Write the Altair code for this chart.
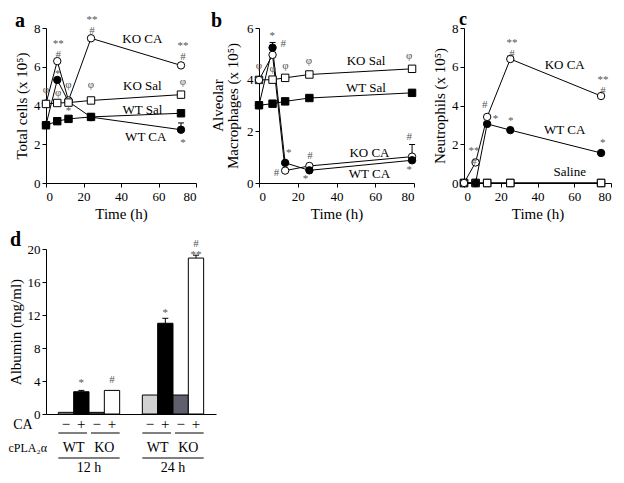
import altair as alt
import pandas as pd

FONT = "Liberation Serif"
NOTE_COLOR = "#555555"

# ---------------- Panel a : Total cells ----------------
a_time = [0, 6, 12, 24, 72]
a_ko_ca = [4.1, 6.29, 4.26, 7.47, 6.07]
a_wt_ca = [3.0, 5.32, 4.2, 3.4, 2.75]
a_ko_sal = [4.08, 4.13, 4.15, 4.26, 4.56]
a_wt_sal = [2.98, 3.19, 3.31, 3.41, 3.6]
a_err_series = ["WT CA"]
a_err_time = [72]
a_err_size = [0.35]
a_note_time = [0, 6.5, 6.5, 6.3, 12, 12, 24.5, 24, 73, 73, 73]
a_note_value = [4.8, 7.2, 4.64, 5.65, 5.04, 3.74, 8.4, 5.04, 7.07, 5.2, 2.05]
a_note_text = ["φ", "**\n#", "φ", "*", "φ", "*", "**\n#", "φ", "**\n#", "φ", "*"]
a_label_time = [51.4, 51.4, 51.4, 53.2]
a_label_value = [7.42, 5.0, 3.77, 2.37]
a_label_text = ["KO CA", "KO Sal", "WT Sal", "WT CA"]

# ---------------- Panel b : Alveolar macrophages ----------------
b_time = [0, 7, 13.5, 26, 79]
b_ko_sal = [3.99, 4.0, 4.07, 4.2, 4.42]
b_wt_sal = [3.01, 3.07, 3.16, 3.29, 3.49]
b_wt_ca = [3.01, 5.24, 0.78, 0.49, 0.88]
b_ko_ca = [3.99, 4.96, 0.48, 0.66, 1.02]
b_err_series = ["WT CA", "KO CA", "KO Sal"]
b_err_time = [7, 79, 13.5]
b_err_size = [0.2, 0.47, 0.1]
b_note_time = [0, 6.8, 12.5, 7, 13.7, 25.8, 77.5, 77.5, 77.5, 15.4, 9.0, 26.3, 24]
b_note_value = [4.54, 5.7, 5.39, 4.42, 4.54, 4.72, 4.93, 1.79, 0.51, 1.18, 0.39, 1.06, 0.15]
b_note_text = ["φ", "*", "#", "φ", "φ", "φ", "φ", "#", "*", "*", "#", "#", "*"]
b_label_time = [55.2, 55.2, 57, 57]
b_label_value = [4.72, 3.68, 1.18, 0.33]
b_label_text = ["KO Sal", "WT Sal", "KO CA", "WT CA"]

# ---------------- Panel c : Neutrophils ----------------
c_time = [0, 6.3, 12.6, 25.2, 74.6]
c_ko_ca = [0, 1.06, 3.41, 6.4, 4.49]
c_wt_ca = [0, 0, 3.05, 2.73, 1.55]
c_ko_sal = [0, 0, 0, 0, 0]
c_wt_sal = [0, 0, 0, 0, 0]
c_err_series = ["KO CA", "KO CA"]
c_err_time = [25.2, 74.6]
c_err_size = [0.15, 0.1]
c_note_time = [5.4, 11.3, 17.1, 26.1, 25.5, 75.7, 75.5]
c_note_value = [1.65, 4.03, 3.3, 7.21, 3.22, 5.3, 2.07]
c_note_text = ["**\n#", "#", "*", "**\n#", "*", "**\n#", "*"]
c_label_time = [54.8, 54.8, 57.5]
c_label_value = [6.08, 2.73, 0.56]
c_label_text = ["KO CA", "WT CA", "Saline"]

# ---------------- Panel d : Albumin ----------------
d_time = ["12 h"] * 4 + ["24 h"] * 4
d_geno = ["WT", "WT", "KO", "KO"] * 2
d_ca = ["−", "+", "−", "+"] * 2
d_value = [0.2, 2.7, 0.2, 2.86, 2.3, 11.0, 2.3, 18.9]
d_err = [0, 0.16, 0, 0, 0, 0.6, 0, 0.35]
d_note_time = ["12 h", "12 h", "24 h", "24 h"]
d_note_combo = ["WT+", "KO+", "WT+", "KO+"]
d_note_value = [3.77, 4.17, 12.2, 20.58]
d_note_text = ["*", "#", "*", "#\n**"]

SHAPE = {"KO Sal": "square", "WT Sal": "square", "KO CA": "circle", "WT CA": "circle"}
FILL = {"KO Sal": "white", "WT Sal": "black", "KO CA": "white", "WT CA": "black"}


def y_axis(values, title, tpad=4):
    return alt.Axis(values=values, title=title, tickSize=4, labelPadding=2,
                    titlePadding=tpad, labelFontSize=13, titleFontSize=15,
                    labelFont=FONT, titleFont=FONT, titleFontWeight="normal",
                    labelOverlap=False, labelColor="black", titleColor="black")


def x_axis():
    return alt.Axis(values=[0, 20, 40, 60, 80], title="Time (h)", tickSize=4,
                    labelPadding=3, titlePadding=3, labelFontSize=13, titleFontSize=15,
                    labelFont=FONT, titleFont=FONT, titleFontWeight="normal",
                    labelOverlap=False, labelColor="black", titleColor="black")


def line_panel(time, series, order, err, notes, labels, ydom, yticks, ytitle,
               w, h, letter, letter_dx, tpad=4, extra_title=None, letter_size=20,
               letter_y=-1):
    rows = []
    for s in order:
        for t, v in zip(time, series[s]):
            rows.append({"time": t, "value": v, "series": s})
    df = pd.DataFrame(rows)
    xs = alt.Scale(domain=[0, 80], nice=False)
    ys = alt.Scale(domain=ydom, nice=False)
    yax = y_axis(yticks, ytitle, tpad)
    X = alt.X("time:Q", scale=xs, axis=x_axis())
    Y = alt.Y("value:Q", scale=ys, axis=yax)
    layers = [alt.Chart(df).mark_line(color="black", strokeWidth=1).encode(
        x=X, y=Y, detail="series:N")]
    es, et, ez = err
    erows = []
    for s, t, z in zip(es, et, ez):
        v = series[s][time.index(t)]
        erows.append({"time": t, "value": v, "top": v + z})
    if erows:
        edf = pd.DataFrame(erows)
        layers.append(alt.Chart(edf).mark_rule(color="black", strokeWidth=1).encode(
            x=X, y=Y, y2="top:Q"))
        layers.append(alt.Chart(edf).mark_tick(color="black", thickness=1, size=6,
                                               orient="horizontal", opacity=1).encode(
            x=X, y=alt.Y("top:Q", scale=ys, axis=yax)))
    for s in order:
        layers.append(alt.Chart(df[df.series == s]).mark_point(
            shape=SHAPE[s], filled=True, fill=FILL[s], stroke="black",
            strokeWidth=1, size=55, opacity=1).encode(x=X, y=Y))
    nt, nv, ntx = notes
    ndf = pd.DataFrame({"time": nt, "value": nv, "t": ntx})
    layers.append(alt.Chart(ndf).mark_text(font=FONT, fontSize=11, lineBreak="\n",
                                           lineHeight=11).encode(
        x=X, y=Y, text="t:N", color=alt.value(NOTE_COLOR)))
    lt, lv, ltx = labels
    ldf = pd.DataFrame({"time": lt, "value": lv, "t": ltx})
    layers.append(alt.Chart(ldf).mark_text(font=FONT, fontSize=13).encode(
        x=X, y=Y, text="t:N", color=alt.value("black")))
    layers.append(alt.Chart(pd.DataFrame({"t": [letter]})).mark_text(
        font=FONT, fontSize=letter_size, fontWeight="bold", align="left",
        baseline="alphabetic"
    ).encode(x=alt.value(letter_dx), y=alt.value(letter_y), text="t:N",
             color=alt.value("black")))
    if extra_title:
        txt, dx = extra_title
        layers.append(alt.Chart(pd.DataFrame({"t": [txt]})).mark_text(
            font=FONT, fontSize=15, angle=270, baseline="middle"
        ).encode(x=alt.value(dx), y=alt.value(h / 2), text="t:N",
                 color=alt.value("black")))
    return alt.layer(*layers).properties(width=w, height=h)


H_TOP = 155

pa = line_panel(a_time, {"KO CA": a_ko_ca, "WT CA": a_wt_ca, "KO Sal": a_ko_sal, "WT Sal": a_wt_sal},
                ["WT CA", "KO CA", "WT Sal", "KO Sal"],
                (a_err_series, a_err_time, a_err_size),
                (a_note_time, a_note_value, a_note_text),
                (a_label_time, a_label_value, a_label_text),
                [0, 8], [0, 2, 4, 6, 8], "Total cells (x 10⁵)", 150, H_TOP, "a", -31)
pb = line_panel(b_time, {"KO CA": b_ko_ca, "WT CA": b_wt_ca, "KO Sal": b_ko_sal, "WT Sal": b_wt_sal},
                ["KO Sal", "WT Sal", "KO CA", "WT CA"],
                (b_err_series, b_err_time, b_err_size),
                (b_note_time, b_note_value, b_note_text),
                (b_label_time, b_label_value, b_label_text),
                [0, 6], [0, 2, 4, 6], "Macrophages (x 10⁵)", 155, H_TOP, "b", -48,
                tpad=6, extra_title=("Alveolar", -41))
pc = line_panel(c_time, {"KO CA": c_ko_ca, "WT CA": c_wt_ca, "KO Sal": c_ko_sal, "WT Sal": c_wt_sal},
                ["WT Sal", "KO Sal", "WT CA", "KO CA"],
                (c_err_series, c_err_time, c_err_size),
                (c_note_time, c_note_value, c_note_text),
                (c_label_time, c_label_value, c_label_text),
                [0, 8], [0, 2, 4, 6, 8], "Neutrophils (x 10⁵)", 147, H_TOP, "c", -5,
                letter_size=18, letter_y=-3)

# ---- bar panel ----
WD, HD = 170, 165
P_IN, P_OUT = 0.27, 0.147
STEP = WD / (2 - P_IN + 2 * P_OUT)
G = STEP * (1 - P_IN)
combos = ["WT−", "WT+", "KO−", "KO+"]
bar_colors = ["#d2d2d2", "#000000", "#5f5f6d", "#ffffff"]

ddf = pd.DataFrame({"time": d_time, "geno": d_geno, "ca": d_ca, "value": d_value,
                    "err": d_err})
ddf["combo"] = ddf["geno"] + ddf["ca"]
ddf["top"] = ddf["value"] + ddf["err"]

xsd = alt.Scale(domain=["12 h", "24 h"], paddingInner=P_IN, paddingOuter=P_OUT)
osd = alt.Scale(domain=combos, paddingInner=0, paddingOuter=0)
ysd = alt.Scale(domain=[0, 20], nice=False)
XAX = alt.Axis(labels=False, ticks=False, title=None)
XD = alt.X("time:N", scale=xsd, axis=XAX)
OD = alt.XOffset("combo:N", scale=osd)
YAX = y_axis([0, 4, 8, 12, 16, 20], "Albumin (mg/ml)")
YD = alt.Y("value:Q", scale=ysd, axis=YAX)

bars = alt.Chart(ddf).mark_bar(stroke="black", strokeWidth=1).encode(
    x=XD, xOffset=OD, y=YD,
    fill=alt.Fill("combo:N", scale=alt.Scale(domain=combos, range=bar_colors), legend=None))
edf = ddf[ddf.err > 0]
erule = alt.Chart(edf).mark_rule(color="black", strokeWidth=1).encode(
    x=XD, xOffset=OD, y=YD, y2="top:Q")
ecap = alt.Chart(edf).mark_tick(color="black", thickness=1, size=6, orient="horizontal",
                                opacity=1).encode(
    x=XD, xOffset=OD, y=alt.Y("top:Q", scale=ysd, axis=YAX))
ndf_d = pd.DataFrame({"time": d_note_time, "combo": d_note_combo, "value": d_note_value,
                      "t": d_note_text})
dnotes = alt.Chart(ndf_d).mark_text(font=FONT, fontSize=11, lineBreak="\n",
                                    lineHeight=11).encode(
    x=XD, xOffset=OD, y=YD, text="t:N", color=alt.value(NOTE_COLOR))
R1, R1L, R2, R2L, R3 = 10, 19, 34, 44, 54
signs = alt.Chart(ddf).mark_text(font=FONT, fontSize=15).encode(
    x=XD, xOffset=OD, y=alt.value(HD + R1), text="ca:N", color=alt.value("black"))
gdf = pd.DataFrame({"time": ["12 h", "24 h"]})
line_wt = alt.Chart(gdf).mark_rule(color="black", strokeWidth=1, xOffset=-G / 2,
                                   x2Offset=-2).encode(
    x=XD, x2="time:N", y=alt.value(HD + R1L))
line_ko = alt.Chart(gdf).mark_rule(color="black", strokeWidth=1, xOffset=2,
                                   x2Offset=G / 2).encode(
    x=XD, x2="time:N", y=alt.value(HD + R1L))
line_all = alt.Chart(gdf).mark_rule(color="black", strokeWidth=1, xOffset=-G / 2,
                                    x2Offset=G / 2).encode(
    x=XD, x2="time:N", y=alt.value(HD + R2L))
wt_txt = alt.Chart(gdf).mark_text(font=FONT, fontSize=14, dx=-G / 4).encode(
    x=XD, y=alt.value(HD + R2), text=alt.value("WT"), color=alt.value("black"))
ko_txt = alt.Chart(gdf).mark_text(font=FONT, fontSize=14, dx=G / 4).encode(
    x=XD, y=alt.value(HD + R2), text=alt.value("KO"), color=alt.value("black"))
time_txt = alt.Chart(gdf).mark_text(font=FONT, fontSize=14).encode(
    x=XD, y=alt.value(HD + R3), text="time:N", color=alt.value("black"))
side = pd.DataFrame({"t": ["CA", "cPLA₂α"]})
ca_txt = alt.Chart(side.iloc[[0]]).mark_text(font=FONT, fontSize=14).encode(
    x=alt.value(-23), y=alt.value(HD + R1 + 1), text="t:N", color=alt.value("black"))
cpla_txt = alt.Chart(side.iloc[[1]]).mark_text(font=FONT, fontSize=12, align="right").encode(
    x=alt.value(1), y=alt.value(HD + R2), text="t:N", color=alt.value("black"))
dletter = alt.Chart(pd.DataFrame({"t": ["d"]})).mark_text(
    font=FONT, fontSize=20, fontWeight="bold", align="left", baseline="alphabetic"
).encode(x=alt.value(-36), y=alt.value(-3), text="t:N", color=alt.value("black"))

pd_chart = alt.layer(bars, erule, ecap, dnotes, signs, line_wt, line_ko, line_all,
                     wt_txt, ko_txt, time_txt, ca_txt, cpla_txt, dletter).properties(
    width=WD, height=HD)

top = alt.hconcat(pa, pb, pc, spacing=14)
chart = alt.concat(top, pd_chart, columns=1).properties(
    align="none", spacing={"row": 9, "column": 10},
    padding={"left": 0, "top": 3, "right": 0, "bottom": 0}
).configure_view(stroke=None).configure_axis(
    labelFont=FONT, titleFont=FONT, labelColor="black", titleColor="black",
    domainColor="black", tickColor="black", grid=False, titleFontWeight="normal",
    labelOverlap=False
).configure_text(font=FONT)

chart.save("out.html", embed_options={"renderer": "svg", "actions": False})
